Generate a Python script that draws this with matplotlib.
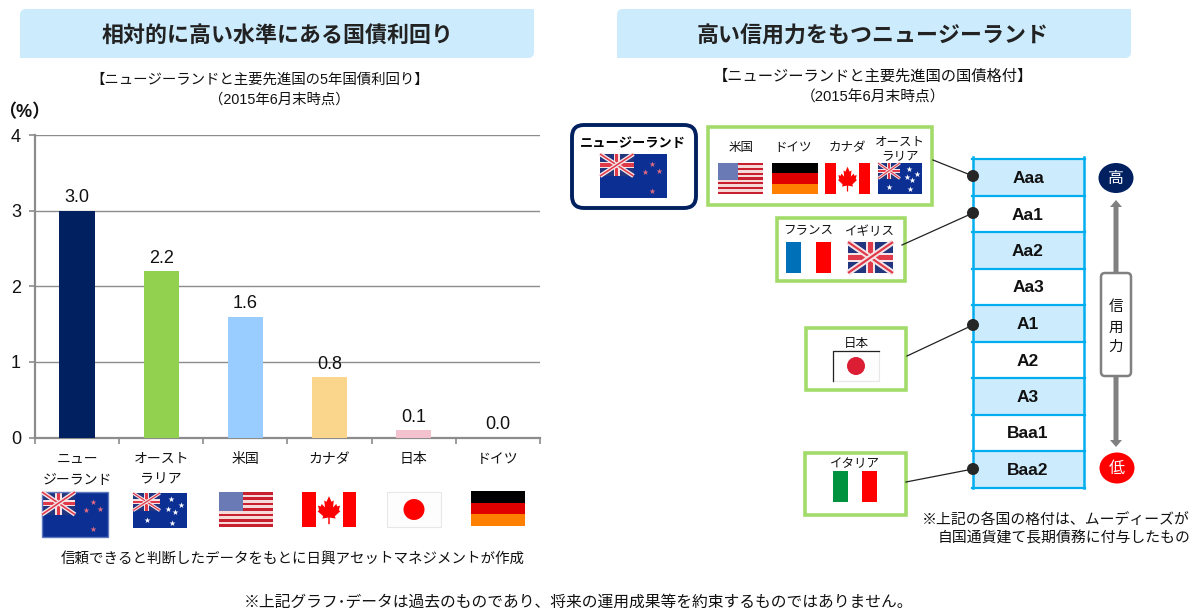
import matplotlib
matplotlib.use('Agg')
import matplotlib.pyplot as plt
from matplotlib.patches import Rectangle, FancyBboxPatch, FancyArrow, Circle, Ellipse, Polygon

plt.rcParams['font.family'] = ['Liberation Sans', 'Noto Sans CJK JP']

# Data
countries = ['ニュー\nジーランド', 'オースト\nラリア', '米国', 'カナダ', '日本', 'ドイツ']
yields = [3.0, 2.2, 1.6, 0.8, 0.1, 0.0]
yield_labels = ['3.0', '2.2', '1.6', '0.8', '0.1', '0.0']
bar_colors = ['#002060', '#92D050', '#99CCFF', '#FAD68C', '#F4C2CE', '#BFBFBF']
yticks = [0, 1, 2, 3, 4]
ratings = ['Aaa', 'Aa1', 'Aa2', 'Aa3', 'A1', 'A2', 'A3', 'Baa1', 'Baa2']
rating_tops = [159, 196, 232, 269, 305, 342, 378, 415, 451, 488]

GREY = '#8C8C8C'
GREEN = '#A3DB6A'
NAVY = '#002060'
LADDER = '#00AEEF'
LIGHT = '#CCEBFD'
TEXT = '#111111'

fig = plt.figure(figsize=(11.93, 6.08), dpi=100)

# Bar chart on the left
ax = fig.add_axes([35 / 1193, 1 - 437.5 / 608, 505 / 1193, 302.5 / 608])
x = list(range(len(countries)))
ax.bar(x, yields, width=0.42, color=bar_colors, zorder=3)
ax.set_xlim(-0.5, 5.5)
ax.set_ylim(0, 4)
ax.set_yticks(yticks)
ax.set_yticklabels([str(v) for v in yticks], fontsize=13, color=TEXT)
ax.set_xticks(x)
ax.set_xticklabels(countries, fontsize=10, color=TEXT, linespacing=1.6, va='top')
ax.set_xticks([i - 0.5 for i in range(7)], minor=True)
ax.tick_params(axis='x', which='major', length=0, pad=10.5)
ax.tick_params(axis='x', which='minor', length=4, width=1.2, color=GREY)
ax.tick_params(axis='y', length=4, width=1.2, color=GREY, pad=6)
ax.grid(axis='y', color=GREY, linewidth=1.0, zorder=1)
ax.set_axisbelow(True)
for side in ['top', 'right']:
    ax.spines[side].set_visible(False)
for side in ['left', 'bottom']:
    ax.spines[side].set_color(GREY)
    ax.spines[side].set_linewidth(1.6)
for i, v in enumerate(yields):
    ax.annotate(yield_labels[i], (i, v), xytext=(0, 3), textcoords='offset points',
                ha='center', va='bottom', fontsize=13, color=TEXT)

# Everything else is drawn in pixel coordinates on a full size overlay
ov = fig.add_axes([0, 0, 1, 1], zorder=5)
ov.set_xlim(0, 1193)
ov.set_ylim(608, 0)
ov.axis('off')


def label(px, py, s, size=9, weight='normal', color=TEXT, ha='center'):
    ov.text(px, py, s, fontsize=size, fontweight=weight, color=color, ha=ha, va='center', zorder=4)


def stripes(x0, y0, w, h, cols, vertical=False):
    n = len(cols)
    for i, c in enumerate(cols):
        if vertical:
            ov.add_patch(Rectangle((x0 + w * i / n, y0), w / n, h, color=c, lw=0))
        else:
            ov.add_patch(Rectangle((x0, y0 + h * i / n), w, h / n, color=c, lw=0))


def union_jack(x0, y0, w, h):
    ov.add_patch(Rectangle((x0, y0), w, h, color='#22357F', lw=0))
    clip = Rectangle((x0, y0), w, h, transform=ov.transData)
    for xs, ys in [([x0, x0 + w], [y0, y0 + h]), ([x0, x0 + w], [y0 + h, y0])]:
        ov.plot(xs, ys, color='#F4E4E6', lw=h * 0.14, solid_capstyle='butt', clip_path=clip)
        ov.plot(xs, ys, color='#E0394A', lw=h * 0.05, solid_capstyle='butt', clip_path=clip)
    ov.add_patch(Rectangle((x0, y0 + h * 0.36), w, h * 0.28, color='#F4E4E6', lw=0))
    ov.add_patch(Rectangle((x0 + w / 2 - h * 0.14, y0), h * 0.28, h, color='#F4E4E6', lw=0))
    ov.add_patch(Rectangle((x0, y0 + h * 0.43), w, h * 0.14, color='#E0394A', lw=0))
    ov.add_patch(Rectangle((x0 + w / 2 - h * 0.07, y0), h * 0.14, h, color='#E0394A', lw=0))


def flag_nz(x0, y0, w, h, star='#E06A80', pts=((0.77, 0.22), (0.67, 0.41), (0.88, 0.38), (0.77, 0.83))):
    ov.add_patch(Rectangle((x0, y0), w, h, color='#0B2F93', lw=0))
    union_jack(x0, y0, w * 0.5, h * 0.5)
    for px, py in pts:
        ov.scatter(x0 + w * px, y0 + h * py, s=20, marker='*', color=star, lw=0, zorder=4)


def flag_au(x0, y0, w, h):
    flag_nz(x0, y0, w, h, star='#FFFFFF',
            pts=((0.7, 0.18), (0.88, 0.35), (0.65, 0.45), (0.78, 0.55), (0.73, 0.85), (0.25, 0.78)))


def flag_us(x0, y0, w, h):
    stripes(x0, y0, w, h, ['#C8202E', '#F6DADA'] * 6 + ['#C8202E'])
    ov.add_patch(Rectangle((x0, y0), w * 0.44, h * 0.54, color='#6A7AB4', lw=0))


def flag_ca(x0, y0, w, h):
    ov.add_patch(Rectangle((x0, y0), w, h, color='white', lw=0))
    ov.add_patch(Rectangle((x0, y0), w * 0.25, h, color='#FF0000', lw=0))
    ov.add_patch(Rectangle((x0 + w * 0.75, y0), w * 0.25, h, color='#FF0000', lw=0))
    leaf = [(0.5, 0.12), (0.57, 0.28), (0.63, 0.24), (0.61, 0.44), (0.7, 0.34), (0.72, 0.41),
            (0.8, 0.39), (0.77, 0.52), (0.81, 0.55), (0.66, 0.69), (0.68, 0.76), (0.52, 0.73),
            (0.52, 0.92), (0.48, 0.92), (0.48, 0.73), (0.32, 0.76), (0.34, 0.69), (0.19, 0.55),
            (0.23, 0.52), (0.2, 0.39), (0.28, 0.41), (0.3, 0.34), (0.39, 0.44), (0.37, 0.24),
            (0.43, 0.28)]
    pts = [(x0 + w * (0.5 + (a - 0.5) * 0.68), y0 + h * b) for a, b in leaf]
    ov.add_patch(Polygon(pts, color='#FF0000', lw=0))


def flag_jp(x0, y0, w, h, red='#FF0000', frame='#E8E8E8'):
    ov.add_patch(Rectangle((x0, y0), w, h, facecolor='#FDFDFD', edgecolor=frame, lw=0.8))
    ov.add_patch(Circle((x0 + w / 2, y0 + h / 2), h * 0.3, color=red, lw=0))


def flag_de(x0, y0, w, h):
    stripes(x0, y0, w, h, ['#000000', '#E00000', '#FF8000'])


def flag_fr(x0, y0, w, h):
    stripes(x0, y0, w, h, ['#0070B8', '#FFFFFF', '#FF0000'], vertical=True)


def flag_it(x0, y0, w, h):
    stripes(x0, y0, w, h, ['#00923F', '#FFFFFF', '#FF0000'], vertical=True)


def green_box(x0, y0, x1, y1):
    ov.add_patch(Rectangle((x0, y0), x1 - x0, y1 - y0, facecolor='white', edgecolor=GREEN, lw=2.6, zorder=1))


def line(x0, y0, x1, y1):
    ov.plot([x0, x1], [y0, y1], color='#222222', lw=0.9, zorder=2)


# Title bands, only the top left and bottom right corners are round
for x0, cx, title in [(20, 278, '相対的に高い水準にある国債利回り'), (617, 873, '高い信用力をもつニュージーランド')]:
    ov.add_patch(FancyBboxPatch((x0 + 6, 15), 502, 37, boxstyle='round,pad=6', color=LIGHT, lw=0, zorder=0))
    ov.add_patch(Rectangle((x0 + 500, 9), 14, 14, color=LIGHT, lw=0, zorder=0))
    ov.add_patch(Rectangle((x0, 44), 14, 14, color=LIGHT, lw=0, zorder=0))
    label(cx, 36.5, title, size=15.8, weight='bold', color='#222222')

label(260, 79.5, '【ニュージーランドと主要先進国の5年国債利回り】', size=10.4)
label(279, 99.5, '（2015年6月末時点）', size=10.4)
label(873, 76.5, '【ニュージーランドと主要先進国の国債格付】', size=11)
label(873, 97.5, '（2015年6月末時点）', size=10.6)
label(24, 113, '（%）', size=13, weight='bold')

# Flags below the bars
flag_nz(42, 492, 66, 45)
ov.add_patch(Rectangle((42, 492), 66, 45, fill=False, edgecolor='#5F78BE', lw=1.0))
flag_au(133, 493, 54, 35)
flag_us(219, 492, 54, 35)
flag_ca(302, 492, 54, 35)
flag_jp(387, 492, 54, 35)
flag_de(471, 491, 54, 35)

label(292.5, 559.5, '信頼できると判断したデータをもとに日興アセットマネジメントが作成', size=10.45)
label(578, 602.5, '※上記グラフ･データは過去のものであり、将来の運用成果等を約束するものではありません。', size=11.35)

# Connector lines
line(933, 160, 973, 176)
line(902, 245, 973, 213)
line(907, 356, 973, 325)
line(906, 482, 973, 469)

# Rating ladder
for i, r in enumerate(ratings):
    top, bottom = rating_tops[i], rating_tops[i + 1]
    if i % 2 == 0:
        ov.add_patch(Rectangle((973, top), 111, bottom - top, color=LIGHT, lw=0, zorder=1))
    label(1028, (top + bottom) / 2 + 1, r, size=12.5, weight='bold', color='#111111')
for y in rating_tops:
    ov.plot([972, 1085], [y, y], color=LADDER, lw=1.6, zorder=2)
ov.plot([973, 973], [157, 488], color=LADDER, lw=1.8, zorder=2)
ov.plot([1084, 1084], [157, 488], color=LADDER, lw=1.8, zorder=2)
for y in [176, 213, 325, 469]:
    ov.add_patch(Circle((973, y), 6, color='#262626', lw=0, zorder=3))

# Country boxes on the right
ov.add_patch(FancyBboxPatch((584, 137), 100, 59, boxstyle='round,pad=12', facecolor='white',
                            edgecolor=NAVY, lw=2.8, zorder=1))
label(633, 144.5, 'ニュージーランド', size=9.5, weight='bold', color='black')
flag_nz(600, 154, 67, 44)

green_box(708, 127, 932, 205)
label(741, 148.5, '米国')
label(793, 148.5, 'ドイツ')
label(847, 148.5, 'カナダ')
label(900, 142.5, 'オースト')
label(900, 157.5, 'ラリア')
flag_us(718, 163, 45, 31)
flag_de(772, 163, 46, 31)
flag_ca(825, 163, 45, 31)
flag_au(878, 163, 44, 31)

green_box(777, 218, 905, 281)
label(808, 231.5, 'フランス')
label(870, 232.5, 'イギリス')
flag_fr(786, 242, 45, 31)
union_jack(848, 242, 45, 31)

green_box(806, 328, 906, 390)
label(856, 344.5, '日本')
flag_jp(833, 351, 46, 30, red='#DC1E35')
ov.plot([833, 833, 879], [381, 351, 351], color='#222222', lw=0.9)

green_box(805, 453, 906, 515)
label(855, 464.5, 'イタリア')
flag_it(833, 471, 44, 31)

# Credit strength arrows and markers
arrow_style = dict(width=5, head_width=12, head_length=7, length_includes_head=True, color='#808080', lw=0)
ov.add_patch(FancyArrow(1116, 274, 0, -74, **arrow_style))
ov.add_patch(FancyArrow(1116, 374, 0, 73, **arrow_style))
ov.add_patch(FancyBboxPatch((1105, 277), 22, 95, boxstyle='round,pad=4', facecolor='white',
                            edgecolor='#808080', lw=1.8, zorder=3))
for y, ch in [(306.5, '信'), (327.5, '用'), (346.5, '力')]:
    label(1116, y, ch, size=10.5)
ov.add_patch(Ellipse((1116, 178), 35, 30, color=NAVY, lw=0))
ov.add_patch(Ellipse((1117, 468), 35, 31, color='#FF0000', lw=0))
label(1116, 179, '高', size=11.5, color='white')
label(1117, 469, '低', size=11.5, color='white')

label(1190, 519.5, '※上記の各国の格付は、ムーディーズが', size=10.7, ha='right')
label(1190, 538.5, '自国通貨建て長期債務に付与したもの', size=10.7, ha='right')

plt.savefig('out.png', dpi=100)
